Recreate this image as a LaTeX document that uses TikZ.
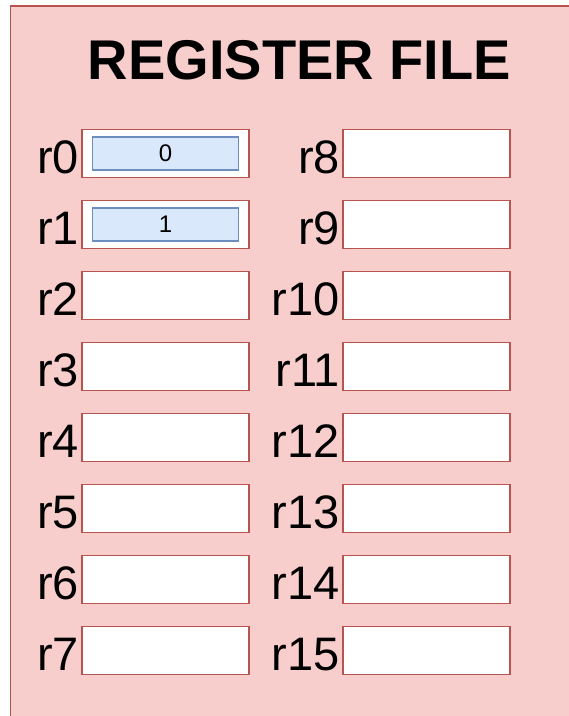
\documentclass[tikz,border=0pt]{standalone}
\usepackage{fontspec}
\setmainfont{Liberation Sans}
\usetikzlibrary{positioning}
\definecolor{fondrouge}{HTML}{F8CECC}
\definecolor{traitrouge}{HTML}{B85450}
\definecolor{fondbleu}{HTML}{DAE8FC}
\definecolor{traitbleu}{HTML}{6C8EBF}
\tikzset{
  registre/.style={draw=traitrouge, fill=white, line width=1.5pt, minimum width=167pt, minimum height=48pt, inner sep=0pt},
  valeur/.style={draw=traitbleu, fill=fondbleu, line width=1.5pt, minimum width=146pt, minimum height=33pt, inner sep=0pt, font=\fontsize{24}{28}\selectfont},
  etiquette/.style={inner sep=0pt, font=\fontsize{47}{52}\selectfont}
}
\begin{document}
\begin{tikzpicture}[x=1pt,y=-1pt,line join=miter]
			\useasboundingbox (0,0) rectangle (569,716);
			\clip (0,0) rectangle (569,716);
			\draw[color=traitrouge, fill=fondrouge, line width=1.8pt] (10.5,6) rectangle (620,760);
			\node[anchor=base, inner sep=0pt, font=\fontsize{56}{60}\selectfont\bfseries] (titre) at (299.5,79) {REGISTER FILE};
			%registres
			\foreach \i in {0,...,7} {
				\pgfmathtruncatemacro{\j}{\i+8}
				\node[registre] (r\i) at (165.5,153.3+71*\i) {};
				\node[registre] (r\j) at (426.3,153.3+71*\i) {};
				\node[etiquette, left=2pt of r\i, yshift=-4pt] (e\i) {r\i};
				\node[etiquette, left=2pt of r\j, yshift=-4pt] (e\j) {r\j};
			}
			%valeurs
			\node[valeur] (v0) at (r0) {0};
			\node[valeur] (v1) at (r1) {1};
\end{tikzpicture}
\end{document}
